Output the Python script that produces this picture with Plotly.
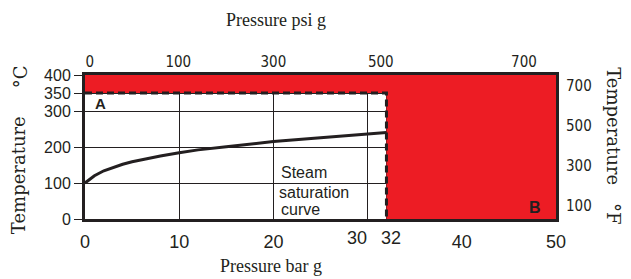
import plotly.graph_objects as go

# ---- data ----
pressure_bar = [0, 1, 2, 3, 4, 5, 6, 8, 10, 12, 15, 17.5, 20, 25, 30, 32]
sat_temp_c = [100, 120, 134, 144, 152, 159, 165, 175, 184, 192, 201, 208, 215, 226, 236, 240]

x_ticks_bar = [0, 10, 20, 30, 32, 40, 50]
x_tick_labels = ["0", "10", "20", "30", "32", "40", "50"]
y_ticks_c = [0, 100, 200, 300, 350, 400]
psi_labels = ["0", "100", "300", "500", "700"]
psi_label_pos_bar = [0.5, 9.9, 20.0, 31.4, 46.6]
f_ticks = [100, 300, 500, 700]

limit_pressure = 32
limit_temp = 350
x_max = 50
y_max = 400

RED = "#ED1C24"
DARK = "#231F20"
SANS = "Liberation Sans, Arial, sans-serif"
NARROW = "Liberation Sans Narrow, Arial Narrow, DejaVu Sans Condensed, sans-serif"
SERIF = "Liberation Serif, Times New Roman, serif"
WSERIF = "DejaVu Serif, serif"

# the crowded 30 / 32 labels are drawn as side-anchored annotations instead
crowded = {30: "right", limit_pressure: "left"}
x_tick_text = ["" if v in crowded else t for v, t in zip(x_ticks_bar, x_tick_labels)]

fig = go.Figure()

# red (unsafe) region: L-shaped polygon
fig.add_trace(go.Scatter(
    x=[0, x_max, x_max, limit_pressure, limit_pressure, 0, 0],
    y=[y_max, y_max, 0, 0, limit_temp, limit_temp, y_max],
    fill="toself", fillcolor=RED, mode="none", hoverinfo="skip", showlegend=False))

# saturation curve
fig.add_trace(go.Scatter(x=pressure_bar, y=sat_temp_c, mode="lines",
                         line=dict(color=DARK, width=3), showlegend=False))

# dashed limits
fig.add_trace(go.Scatter(x=[0, limit_pressure, limit_pressure], y=[limit_temp, limit_temp, 0],
                         mode="lines", line=dict(color=DARK, width=3, dash="7px,4px"),
                         showlegend=False))

# invisible trace for secondary axes
fig.add_trace(go.Scatter(x=[psi_label_pos_bar[0]], y=[f_ticks[0]], xaxis="x2", yaxis="y2",
                         mode="markers", marker=dict(opacity=0), showlegend=False, hoverinfo="skip"))


def ann(text, x, y, family, size, angle=0):
    return dict(text=text, xref="paper", yref="paper", x=x, y=y, textangle=angle,
                xanchor="center", yanchor="middle", showarrow=False,
                font=dict(family=family, size=size, color=DARK))


annotations = [
    ann("Pressure psi g", 0.4055, 1.379, SERIF, 18),
    ann("Pressure bar g", 0.395, -0.326, SERIF, 18),
    ann("Temperature", -0.142, 0.305, WSERIF, 18, -90),
    ann("°C", -0.138, 0.984, WSERIF, 18, -90),
    ann("Temperature", 1.122, 0.641, WSERIF, 18, 90),
    ann("°F", 1.122, 0.031, WSERIF, 18, 90),
    dict(text="<b>A</b>", x=1.6, y=320, showarrow=False,
         font=dict(family=SANS, size=15, color=DARK)),
    dict(text="<b>B</b>", x=47.8, y=33, showarrow=False,
         font=dict(family=SANS, size=16, color=DARK)),
    dict(text="Steam", x=20.6, y=128, xanchor="left", showarrow=False,
         font=dict(family=SANS, size=16, color=DARK)),
    dict(text="saturation", x=20.4, y=74, xanchor="left", showarrow=False,
         font=dict(family=SANS, size=16, color=DARK)),
    dict(text="curve", x=20.6, y=27, xanchor="left", showarrow=False,
         font=dict(family=SANS, size=16, color=DARK)),
]
for v, t in zip(x_ticks_bar, x_tick_labels):
    if v in crowded:
        annotations.append(dict(
            text=t, x=v + (0.1 if crowded[v] == "right" else -0.8), xref="x",
            y=-0.13, yref="paper", xanchor=crowded[v], yanchor="middle", showarrow=False,
            font=dict(family=SANS, size=18, color=DARK)))

fig.update_layout(
    width=623, height=271,
    margin=dict(l=77, r=75, t=67, b=60),
    plot_bgcolor="white", paper_bgcolor="white",
    xaxis=dict(range=[0, x_max], tickvals=x_ticks_bar, ticktext=x_tick_text,
               showgrid=True, gridcolor=DARK, gridwidth=1,
               showline=True, linecolor=DARK, linewidth=3, mirror=True, zeroline=False,
               ticks="", tickangle=0, automargin=False, ticklabelstandoff=4,
               tickfont=dict(family=SANS, size=18, color=DARK)),
    yaxis=dict(range=[0, y_max], tickvals=y_ticks_c, showgrid=True, gridcolor=DARK, gridwidth=1,
               showline=True, linecolor=DARK, linewidth=3, mirror=True, zeroline=False,
               ticks="outside", ticklen=8, tickcolor=DARK, tickwidth=1, automargin=False,
               tickfont=dict(family=SANS, size=16, color=DARK)),
    xaxis2=dict(overlaying="x", side="top", range=[0, x_max], tickvals=psi_label_pos_bar,
                ticktext=psi_labels, showgrid=False, zeroline=False, showline=False, ticks="",
                tickangle=0, automargin=False, ticklabelstandoff=4,
                tickfont=dict(family=NARROW, size=15, color=DARK)),
    yaxis2=dict(overlaying="y", side="right", range=[32, 752], tickvals=f_ticks,
                showgrid=False, zeroline=False, showline=False, ticks="", automargin=False,
                ticklabelstandoff=9,
                tickfont=dict(family=NARROW, size=15, color=DARK)),
    annotations=annotations,
)

fig.write_html("out.html")
